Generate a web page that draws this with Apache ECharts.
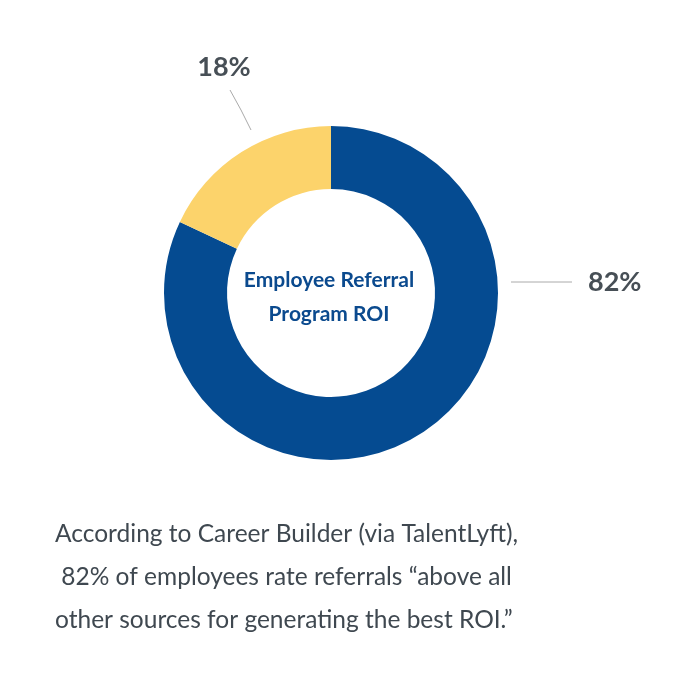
<!DOCTYPE html>
<html>
<head>
<meta charset="utf-8">
<script src="https://cdn.jsdelivr.net/npm/echarts@6/dist/echarts.min.js"></script>
<style>
html,body{margin:0;padding:0;background:#fff;}
#chart{width:700px;height:690px;}
</style>
</head>
<body>
<div id="chart"></div>
<script>
const categories = ['Referrals rated best ROI', 'Other'];
const shares = [82, 18];
const colors = ['#054b91', '#fcd36b'];
const centerText = 'Employee Referral\nProgram ROI';
const captionText = 'According to Career Builder (via TalentLyft),\n 82% of employees rate referrals \u201cabove all\nother sources for generating the best ROI.\u201d';

const chart = echarts.init(document.getElementById('chart'), null, {renderer: 'canvas'});
const CX = 331, CY = 293, R_IN = 104, R_OUT = 167;

const option = {
  animation: false,
  backgroundColor: '#ffffff',
  title: [
    {
      text: centerText,
      left: 324,
      top: 258,
      textAlign: 'center',
      textStyle: {fontFamily: 'Lato', fontWeight: 'bold', fontSize: 21, lineHeight: 34, color: '#0b4a8e'}
    },
    {
      text: captionText,
      left: 50,
      top: 508,
      textStyle: {fontFamily: 'Lato', fontWeight: 'normal', fontSize: 24.5, lineHeight: 43, color: '#3f4850'}
    }
  ],
  series: [{
    type: 'pie',
    center: [CX, CY],
    radius: [R_IN, R_OUT],
    startAngle: 90,
    clockwise: true,
    silent: true,
    emphasis: {disabled: true},
    data: categories.map((c, i) => ({name: c, value: shares[i], itemStyle: {color: colors[i]}})),
    label: {
      show: true,
      formatter: p => p.value + '%',
      fontFamily: 'Lato',
      fontWeight: 'bold',
      fontSize: 27,
      color: '#474f56'
    },
    labelLine: {show: true, length: 15, length2: 40, lineStyle: {color: '#aaaaaa', width: 1}},
    labelLayout: function (p) {
      if (p.dataIndex === 0) {
        return {
          x: CX + R_OUT + 90, y: CY - 11, align: 'left', verticalAlign: 'middle',
          labelLinePoints: [[CX + R_OUT + 13, CY - 11], [CX + R_OUT + 40, CY - 11], [CX + R_OUT + 74, CY - 11]]
        };
      }
      return {
        x: CX - 107, y: CY - 226, align: 'center', verticalAlign: 'middle',
        labelLinePoints: [[CX - 80, CY - 163], [CX - 90, CY - 183], [CX - 101, CY - 203]]
      };
    }
  }]
};
chart.setOption(option);
</script>
</body>
</html>
